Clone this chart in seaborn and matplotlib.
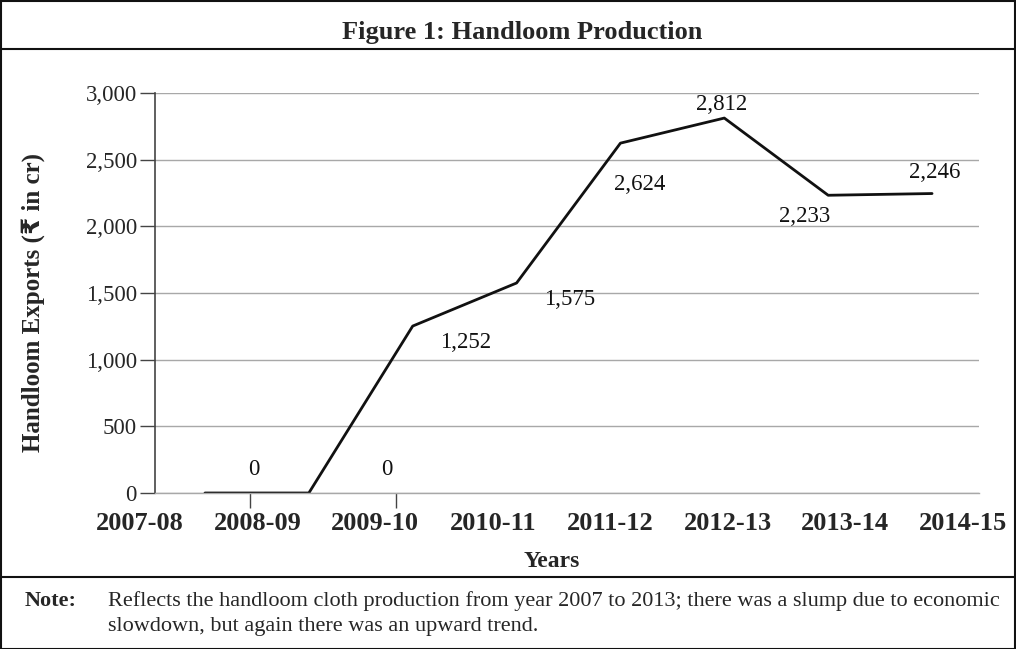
import numpy as np
import pandas as pd
import matplotlib
matplotlib.use('Agg')
import matplotlib.pyplot as plt
import seaborn as sns
from matplotlib.lines import Line2D
from matplotlib.patches import Rectangle
from matplotlib.ticker import FuncFormatter

# data
years = ['2007-08', '2008-09', '2009-10', '2010-11', '2011-12', '2012-13', '2013-14', '2014-15']
exports = [0, 0, 1252, 1575, 2624, 2812, 2233, 2246]
y_ticks = [0, 500, 1000, 1500, 2000, 2500, 3000]
# label offsets (points) for each data label
label_dx = [35, 56, 38, 38, 14, -2, -17, 2]
label_dy = [17, 17, -12, -12, -30, 10, -15, 15]
stray_ticks = [0.433, 1.839]

sns.set_style('white')
plt.rcParams['font.family'] = ['Liberation Serif', 'DejaVu Sans']

W, H = 1016, 649
fig = plt.figure(figsize=(W / 100, H / 100), dpi=100)

df = pd.DataFrame({'year': years, 'value': exports})
df['pos'] = np.arange(len(df))

# main axes
ax = fig.add_axes([155 / W, 1 - 493 / H, (979 - 155) / W, (493 - 93) / H])
sns.lineplot(data=df, x='pos', y='value', color='#111111', lw=2, ax=ax)
ax.set_xlim(-0.481, 7.452)
ax.set_ylim(0, 3000)
ax.set_yticks(y_ticks)
ax.yaxis.set_major_formatter(FuncFormatter(lambda v, p: f'{int(v):,}'))
ax.tick_params(axis='y', length=11, width=1, color='#444444', pad=2,
               labelsize=16.5, left=True, direction='out')
ax.set_xticks(stray_ticks)
ax.set_xticklabels([])
ax.tick_params(axis='x', length=11, width=1, color='#444444', bottom=True, direction='out')
ax.grid(axis='y', color='#a8a8a8', lw=1)
ax.set_axisbelow(True)
for s in ['top', 'right']:
    ax.spines[s].set_visible(False)
ax.spines['left'].set_color('#444444')
ax.spines['left'].set_linewidth(1.2)
ax.spines['bottom'].set_color('#a8a8a8')
ax.spines['bottom'].set_linewidth(1)
ax.set_xlabel('')
ax.set_ylabel('Handloom Exports (₹ in cr)', fontsize=18, fontweight='bold')
ax.yaxis.set_label_coords(-0.1335, 0.475)

for i, row in df.iterrows():
    ax.annotate(f'{row["value"]:,}', (row['pos'], row['value']),
                xytext=(label_dx[i], label_dy[i]), textcoords='offset points',
                ha='center', va='center', fontsize=16.5, color='#111111')

# category labels axis
lab = fig.add_axes([93 / W, 1 - 493 / H, (1010 - 93) / W, 0.001])
lab.set_xlim(-0.4, 7.4)
lab.set_xticks(np.arange(len(years)))
lab.set_xticklabels(years, fontsize=19, fontweight='bold')
lab.tick_params(axis='x', length=0, pad=14)
lab.set_yticks([])
for s in lab.spines.values():
    s.set_visible(False)
lab.patch.set_alpha(0)
lab.set_xlabel('Years', fontsize=17, fontweight='bold', labelpad=11)

# frame, title and note
fig.add_artist(Rectangle((0.5 / W, 0.5 / H), 1 - 1.5 / W, 1 - 1.5 / H, transform=fig.transFigure,
                         fill=False, ec='#111111', lw=1.5))
fig.add_artist(Line2D([0, 1], [1 - 49 / H, 1 - 49 / H], color='#111111', lw=1.5))
fig.add_artist(Line2D([0, 1], [1 - 577 / H, 1 - 577 / H], color='#111111', lw=1.5))
fig.text(522 / W, 1 - 32 / H, 'Figure 1: Handloom Production', ha='center', va='center',
         fontsize=19, fontweight='bold')
fig.text(25 / W, 1 - 601 / H, 'Note:', ha='left', va='center', fontsize=16, fontweight='bold')
fig.text(108 / W, 1 - 601 / H, 'Reflects the handloom cloth production from year 2007 to 2013; there was a slump due to economic',
         ha='left', va='center', fontsize=16)
fig.text(108 / W, 1 - 626 / H, 'slowdown, but again there was an upward trend.',
         ha='left', va='center', fontsize=16)

fig.savefig('out.png', dpi=100)
